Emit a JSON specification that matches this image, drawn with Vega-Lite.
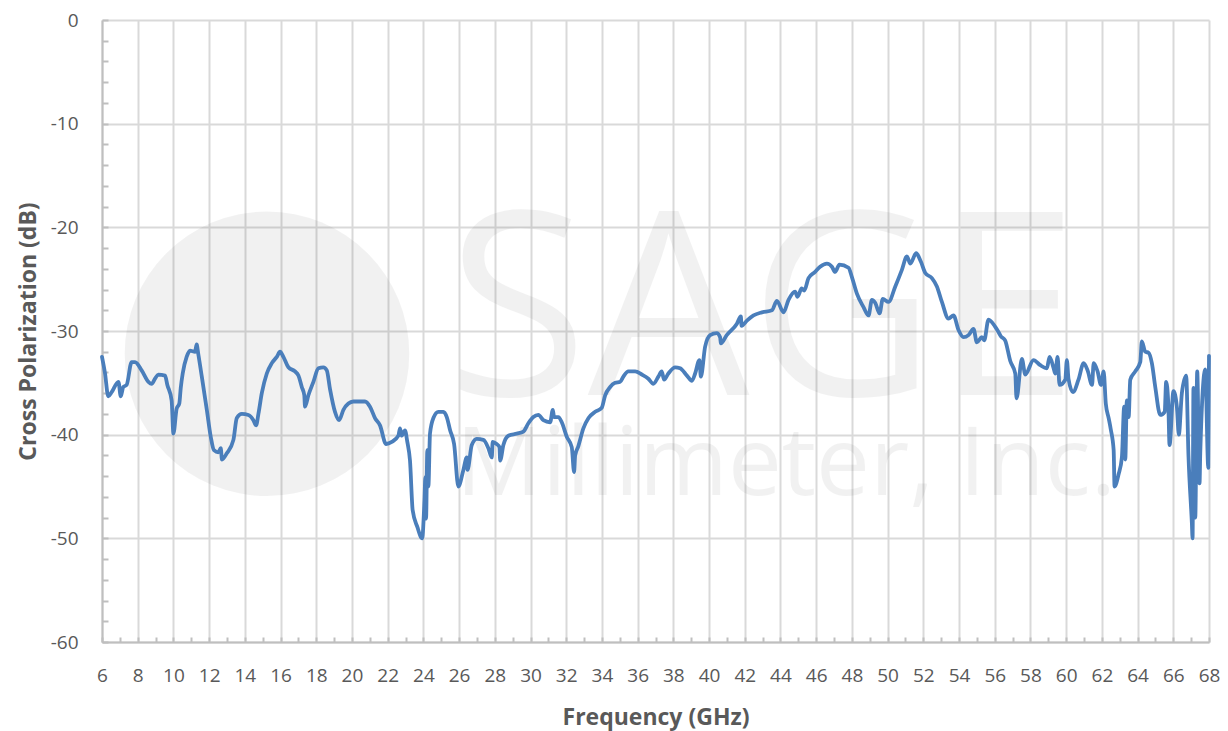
{
  "$schema": "https://vega.github.io/schema/vega-lite/v6.json",
  "width": 1107,
  "height": 622,
  "autosize": {"type": "none"},
  "padding": {"left": 102, "top": 20, "right": 19, "bottom": 89},
  "background": "white",
  "config": {"view": {"stroke": null}, "font": "Open Sans", "axis": {"labelOverlap": false}},
  "layer": [
    {
      "data": {"values": [{"label": "logo"}]},
      "mark": {"type": "point", "shape": "circle", "filled": true, "color": "#000000", "opacity": 0.055, "size": 81000},
      "encoding": {"x": {"datum": 15.24}, "y": {"datum": -32.2}}
    },
    {
      "data": {"values": [{"label": "SAGE"}]},
      "mark": {"type": "text", "fontSize": 256, "fontWeight": 400, "font": "Open Sans", "align": "center", "baseline": "alphabetic", "color": "#000000", "opacity": 0.05},
      "encoding": {"x": {"datum": 43.0}, "y": {"datum": -36.2}, "text": {"field": "label"}}
    },
    {
      "data": {"values": [{"label": "Millimeter, Inc."}]},
      "mark": {"type": "text", "fontSize": 96, "fontWeight": 400, "font": "Open Sans", "align": "center", "baseline": "alphabetic", "color": "#000000", "opacity": 0.05},
      "encoding": {"x": {"datum": 44.3}, "y": {"datum": -45.8}, "text": {"field": "label"}}
    },
    {
      "data": {"values": [
        {"f": 6.0, "db": -32.5}, {"f": 6.17, "db": -34.1}, {"f": 6.35, "db": -36.3}, {"f": 6.54, "db": -35.9},
        {"f": 6.92, "db": -34.9}, {"f": 7.05, "db": -36.3}, {"f": 7.19, "db": -35.4}, {"f": 7.38, "db": -35.2},
        {"f": 7.66, "db": -33.0}, {"f": 7.85, "db": -33.0}, {"f": 8.22, "db": -33.8}, {"f": 8.6, "db": -34.9},
        {"f": 8.78, "db": -35.1}, {"f": 8.97, "db": -34.6}, {"f": 9.15, "db": -34.2}, {"f": 9.53, "db": -34.3},
        {"f": 9.66, "db": -35.2}, {"f": 9.9, "db": -36.7}, {"f": 10.0, "db": -39.9}, {"f": 10.18, "db": -37.5},
        {"f": 10.33, "db": -37.0}, {"f": 10.41, "db": -35.5}, {"f": 10.52, "db": -34.1}, {"f": 10.74, "db": -32.5},
        {"f": 10.93, "db": -31.9}, {"f": 11.21, "db": -32.0}, {"f": 11.3, "db": -31.3}, {"f": 11.39, "db": -32.2},
        {"f": 11.59, "db": -34.4}, {"f": 11.87, "db": -37.6}, {"f": 12.09, "db": -40.2}, {"f": 12.27, "db": -41.5},
        {"f": 12.52, "db": -41.7}, {"f": 12.65, "db": -41.3}, {"f": 12.72, "db": -42.4}, {"f": 12.99, "db": -41.8},
        {"f": 13.36, "db": -40.5}, {"f": 13.55, "db": -38.4}, {"f": 13.83, "db": -38.0}, {"f": 14.2, "db": -38.1},
        {"f": 14.48, "db": -38.6}, {"f": 14.63, "db": -39.1}, {"f": 14.76, "db": -38.0}, {"f": 14.95, "db": -36.0},
        {"f": 15.23, "db": -34.1}, {"f": 15.51, "db": -33.1}, {"f": 15.79, "db": -32.5}, {"f": 15.97, "db": -32.0},
        {"f": 16.16, "db": -32.5}, {"f": 16.44, "db": -33.5}, {"f": 16.81, "db": -33.9}, {"f": 17.0, "db": -34.3},
        {"f": 17.19, "db": -35.4}, {"f": 17.33, "db": -36.2}, {"f": 17.37, "db": -37.3}, {"f": 17.56, "db": -36.2},
        {"f": 17.84, "db": -34.9}, {"f": 18.12, "db": -33.6}, {"f": 18.4, "db": -33.5}, {"f": 18.59, "db": -33.8},
        {"f": 18.77, "db": -35.6}, {"f": 19.05, "db": -37.8}, {"f": 19.28, "db": -38.6}, {"f": 19.52, "db": -37.6},
        {"f": 19.8, "db": -37.0}, {"f": 20.08, "db": -36.8}, {"f": 20.73, "db": -36.8}, {"f": 21.01, "db": -37.3},
        {"f": 21.29, "db": -38.4}, {"f": 21.57, "db": -39.1}, {"f": 21.91, "db": -40.9}, {"f": 22.23, "db": -40.7},
        {"f": 22.6, "db": -40.1}, {"f": 22.69, "db": -39.4}, {"f": 22.79, "db": -40.1}, {"f": 22.97, "db": -39.6},
        {"f": 23.1, "db": -40.7}, {"f": 23.25, "db": -42.5}, {"f": 23.4, "db": -47.3}, {"f": 23.66, "db": -48.9},
        {"f": 23.93, "db": -50.0}, {"f": 24.06, "db": -46.3}, {"f": 24.11, "db": -44.1}, {"f": 24.15, "db": -48.1},
        {"f": 24.22, "db": -41.5}, {"f": 24.28, "db": -45.0}, {"f": 24.37, "db": -39.9}, {"f": 24.56, "db": -38.4},
        {"f": 24.84, "db": -37.8}, {"f": 25.12, "db": -37.8}, {"f": 25.31, "db": -38.3}, {"f": 25.5, "db": -39.6},
        {"f": 25.72, "db": -40.9}, {"f": 25.96, "db": -45.0}, {"f": 26.24, "db": -43.4}, {"f": 26.43, "db": -42.2},
        {"f": 26.47, "db": -43.4}, {"f": 26.71, "db": -41.0}, {"f": 26.99, "db": -40.4}, {"f": 27.36, "db": -40.5},
        {"f": 27.64, "db": -41.3}, {"f": 27.83, "db": -42.2}, {"f": 27.88, "db": -40.7}, {"f": 28.1, "db": -40.9},
        {"f": 28.26, "db": -41.2}, {"f": 28.3, "db": -42.5}, {"f": 28.48, "db": -41.0}, {"f": 28.76, "db": -40.1},
        {"f": 29.23, "db": -39.9}, {"f": 29.6, "db": -39.7}, {"f": 29.88, "db": -38.9}, {"f": 30.16, "db": -38.3},
        {"f": 30.44, "db": -38.1}, {"f": 30.72, "db": -38.6}, {"f": 31.1, "db": -38.8}, {"f": 31.25, "db": -37.6},
        {"f": 31.32, "db": -38.3}, {"f": 31.56, "db": -38.3}, {"f": 31.75, "db": -38.8}, {"f": 32.03, "db": -40.2},
        {"f": 32.31, "db": -41.2}, {"f": 32.44, "db": -43.6}, {"f": 32.5, "db": -42.0}, {"f": 32.68, "db": -41.1},
        {"f": 32.96, "db": -39.4}, {"f": 33.25, "db": -38.4}, {"f": 33.62, "db": -37.8}, {"f": 33.99, "db": -37.4},
        {"f": 34.18, "db": -36.2}, {"f": 34.46, "db": -35.4}, {"f": 34.74, "db": -35.0}, {"f": 35.02, "db": -34.9},
        {"f": 35.2, "db": -34.4}, {"f": 35.48, "db": -33.9}, {"f": 35.86, "db": -33.9}, {"f": 36.23, "db": -34.2},
        {"f": 36.6, "db": -34.6}, {"f": 36.88, "db": -35.1}, {"f": 37.16, "db": -34.4}, {"f": 37.35, "db": -33.9},
        {"f": 37.48, "db": -34.7}, {"f": 37.72, "db": -34.1}, {"f": 38.1, "db": -33.5}, {"f": 38.38, "db": -33.6},
        {"f": 38.76, "db": -34.3}, {"f": 39.04, "db": -34.8}, {"f": 39.22, "db": -34.1}, {"f": 39.46, "db": -32.8},
        {"f": 39.54, "db": -34.4}, {"f": 39.78, "db": -31.5}, {"f": 40.06, "db": -30.4}, {"f": 40.43, "db": -30.2},
        {"f": 40.62, "db": -30.6}, {"f": 40.66, "db": -31.2}, {"f": 40.99, "db": -30.4}, {"f": 41.56, "db": -29.3},
        {"f": 41.78, "db": -28.6}, {"f": 41.82, "db": -29.5}, {"f": 42.12, "db": -29.0}, {"f": 42.49, "db": -28.5},
        {"f": 42.96, "db": -28.2}, {"f": 43.52, "db": -28.0}, {"f": 43.8, "db": -27.1}, {"f": 44.17, "db": -28.2},
        {"f": 44.45, "db": -27.0}, {"f": 44.82, "db": -26.2}, {"f": 44.95, "db": -26.7}, {"f": 45.19, "db": -25.9},
        {"f": 45.33, "db": -26.1}, {"f": 45.57, "db": -24.9}, {"f": 45.94, "db": -24.3}, {"f": 46.22, "db": -23.8},
        {"f": 46.6, "db": -23.5}, {"f": 46.88, "db": -23.8}, {"f": 47.06, "db": -24.3}, {"f": 47.3, "db": -23.6},
        {"f": 47.81, "db": -23.9}, {"f": 48.0, "db": -24.8}, {"f": 48.28, "db": -26.4}, {"f": 48.65, "db": -27.7},
        {"f": 48.93, "db": -28.5}, {"f": 49.12, "db": -27.0}, {"f": 49.31, "db": -27.3}, {"f": 49.55, "db": -28.3},
        {"f": 49.73, "db": -26.9}, {"f": 50.05, "db": -27.2}, {"f": 50.43, "db": -25.7}, {"f": 50.8, "db": -24.1},
        {"f": 51.08, "db": -22.8}, {"f": 51.27, "db": -23.5}, {"f": 51.6, "db": -22.5}, {"f": 51.86, "db": -23.3},
        {"f": 52.11, "db": -24.4}, {"f": 52.48, "db": -24.9}, {"f": 52.76, "db": -25.7}, {"f": 53.04, "db": -27.2},
        {"f": 53.41, "db": -28.8}, {"f": 53.69, "db": -28.5}, {"f": 53.97, "db": -29.9}, {"f": 54.25, "db": -30.6},
        {"f": 54.53, "db": -30.4}, {"f": 54.81, "db": -29.8}, {"f": 55.0, "db": -31.1}, {"f": 55.28, "db": -30.6},
        {"f": 55.41, "db": -30.9}, {"f": 55.65, "db": -28.9}, {"f": 56.03, "db": -29.6}, {"f": 56.21, "db": -30.1},
        {"f": 56.34, "db": -30.5}, {"f": 56.58, "db": -30.9}, {"f": 56.87, "db": -32.9}, {"f": 57.15, "db": -34.1},
        {"f": 57.22, "db": -36.5}, {"f": 57.52, "db": -32.7}, {"f": 57.71, "db": -34.2}, {"f": 58.17, "db": -32.8},
        {"f": 58.55, "db": -33.3}, {"f": 58.92, "db": -33.6}, {"f": 59.07, "db": -32.5}, {"f": 59.3, "db": -33.6},
        {"f": 59.39, "db": -34.1}, {"f": 59.52, "db": -32.5}, {"f": 59.63, "db": -35.2}, {"f": 59.95, "db": -34.7},
        {"f": 60.04, "db": -32.8}, {"f": 60.13, "db": -34.6}, {"f": 60.38, "db": -35.9}, {"f": 60.69, "db": -34.7},
        {"f": 60.98, "db": -33.1}, {"f": 61.2, "db": -33.8}, {"f": 61.45, "db": -35.2}, {"f": 61.54, "db": -33.1},
        {"f": 61.76, "db": -33.9}, {"f": 61.95, "db": -35.2}, {"f": 62.1, "db": -33.9}, {"f": 62.22, "db": -37.0},
        {"f": 62.38, "db": -38.4}, {"f": 62.5, "db": -39.5}, {"f": 62.66, "db": -41.5}, {"f": 62.71, "db": -45.0},
        {"f": 62.94, "db": -43.8}, {"f": 63.12, "db": -42.2}, {"f": 63.25, "db": -37.3}, {"f": 63.31, "db": -42.4},
        {"f": 63.4, "db": -36.7}, {"f": 63.5, "db": -38.3}, {"f": 63.59, "db": -34.7}, {"f": 63.87, "db": -33.9},
        {"f": 64.15, "db": -33.0}, {"f": 64.24, "db": -31.0}, {"f": 64.43, "db": -32.0}, {"f": 64.62, "db": -32.1},
        {"f": 64.8, "db": -33.1}, {"f": 64.99, "db": -35.4}, {"f": 65.27, "db": -38.1}, {"f": 65.52, "db": -37.8},
        {"f": 65.6, "db": -34.9}, {"f": 65.72, "db": -37.0}, {"f": 65.79, "db": -41.0}, {"f": 66.01, "db": -35.8},
        {"f": 66.2, "db": -37.3}, {"f": 66.31, "db": -40.0}, {"f": 66.48, "db": -36.0}, {"f": 66.72, "db": -34.3},
        {"f": 66.85, "db": -42.0}, {"f": 67.04, "db": -48.5}, {"f": 67.08, "db": -50.0}, {"f": 67.13, "db": -35.5},
        {"f": 67.23, "db": -48.0}, {"f": 67.34, "db": -33.9}, {"f": 67.47, "db": -44.7}, {"f": 67.51, "db": -41.8},
        {"f": 67.79, "db": -33.7}, {"f": 67.96, "db": -43.2}, {"f": 68.0, "db": -32.4}
      ]},
      "mark": {"type": "line", "interpolate": "monotone", "color": "#4a7ebb", "strokeWidth": 3.8, "strokeJoin": "round", "strokeCap": "round"},
      "encoding": {
        "x": {
          "field": "f", "type": "quantitative",
          "scale": {"domain": [6, 68], "nice": false, "zero": false},
          "axis": {
            "title": "Frequency (GHz)",
            "values": [6,7,8,9,10,11,12,13,14,15,16,17,18,19,20,21,22,23,24,25,26,27,28,29,30,31,32,33,34,35,36,37,38,39,40,41,42,43,44,45,46,47,48,49,50,51,52,53,54,55,56,57,58,59,60,61,62,63,64,65,66,67,68],
            "tickCount": 200,
            "labelExpr": "datum.value % 2 === 0 ? '' + datum.value : ''",
            "labelFont": "Open Sans", "labelFontSize": 19, "labelColor": "#595959", "labelPadding": 29,
            "labelFlush": false, "labelOverlap": false,
            "grid": true,
            "gridColor": "#d9d9d9", "gridWidth": 2,
            "gridOpacity": {"condition": {"test": "datum.value % 2 === 0", "value": 1}, "value": 0},
            "tickSize": -5, "tickColor": "#bfbfbf", "tickWidth": 2,
            "domainColor": "#bfbfbf", "domainWidth": 2,
            "titleFont": "Open Sans", "titleFontSize": 23, "titleFontWeight": "bold", "titleColor": "#595959", "titlePadding": 21
          }
        },
        "y": {
          "field": "db", "type": "quantitative",
          "scale": {"domain": [-60, 0], "nice": false},
          "axis": {
            "title": "Cross Polarization (dB)",
            "values": [-60,-58,-56,-54,-52,-50,-48,-46,-44,-42,-40,-38,-36,-34,-32,-30,-28,-26,-24,-22,-20,-18,-16,-14,-12,-10,-8,-6,-4,-2,0],
            "tickCount": 200,
            "labelExpr": "datum.value % 10 === 0 ? (datum.value < 0 ? '-' + abs(datum.value) : '' + datum.value) : ''",
            "labelFont": "Open Sans", "labelFontSize": 19, "labelColor": "#595959", "labelPadding": 30,
            "labelFlush": false, "labelOverlap": false,
            "grid": true,
            "gridColor": "#d9d9d9", "gridWidth": 2,
            "gridOpacity": {"condition": {"test": "datum.value % 10 === 0", "value": 1}, "value": 0},
            "tickSize": -6, "tickColor": "#bfbfbf", "tickWidth": 2,
            "domainColor": "#bfbfbf", "domainWidth": 2,
            "titleFont": "Open Sans", "titleFontSize": 23, "titleFontWeight": "bold", "titleColor": "#595959", "titlePadding": 10
          }
        }
      }
    }
  ]
}
